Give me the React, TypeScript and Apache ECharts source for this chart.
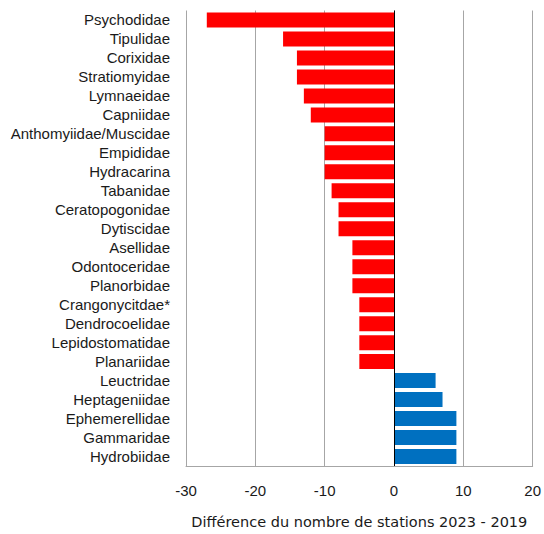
import React, { useEffect, useRef } from "react";
import * as echarts from "echarts";

const categories = [
  "Psychodidae", "Tipulidae", "Corixidae", "Stratiomyidae", "Lymnaeidae", "Capniidae",
  "Anthomyiidae/Muscidae", "Empididae", "Hydracarina", "Tabanidae", "Ceratopogonidae",
  "Dytiscidae", "Asellidae", "Odontoceridae", "Planorbidae", "Crangonycitdae*",
  "Dendrocoelidae", "Lepidostomatidae", "Planariidae", "Leuctridae", "Heptageniidae",
  "Ephemerellidae", "Gammaridae", "Hydrobiidae",
];
const values = [
  -27, -16, -14, -14, -13, -12, -10, -10, -10, -9, -8, -8, -6, -6, -6, -5, -5, -5, -5,
  6, 7, 9, 9, 9,
];
const xTitle = "Différence du nombre de stations 2023 - 2019";

export default function App() {
  const ref = useRef<HTMLDivElement>(null);
  useEffect(() => {
    if (!ref.current) return;
    const chart = echarts.init(ref.current, null, { renderer: "svg" });
    chart.setOption({
      animation: false,
      backgroundColor: "#ffffff",
      grid: { left: 186, right: 11, top: 10.5, bottom: 57.5, containLabel: false },
      xAxis: {
        type: "value",
        min: -30,
        max: 20,
        interval: 10,
        axisLine: { show: true, onZero: false, lineStyle: { color: "#a6a6a6", width: 1 } },
        axisTick: { show: false },
        splitLine: { show: true, lineStyle: { color: "#a6a6a6", width: 1 } },
        axisLabel: { color: "#1a1a1a", fontSize: 15, fontFamily: "Liberation Sans, Arial", margin: 17 },
        name: xTitle,
        nameLocation: "middle",
        nameGap: 48,
        nameTextStyle: { color: "#1a1a1a", fontSize: 14.5, fontFamily: "DejaVu Sans, Verdana" },
      },
      yAxis: {
        type: "category",
        data: categories,
        inverse: true,
        axisLine: { show: false },
        axisTick: { show: false },
        axisLabel: {
          interval: 0,
          color: "#1a1a1a",
          fontSize: 15,
          fontFamily: "Liberation Sans, Arial",
          margin: 16,
        },
      },
      series: [
        {
          type: "bar",
          data: values.map((v) => ({
            value: v,
            itemStyle: { color: v < 0 ? "#ff0000" : "#0070c0" },
          })),
          barWidth: 15,
          markLine: {
            silent: true,
            symbol: "none",
            label: { show: false },
            lineStyle: { color: "#000000", width: 1, type: "solid" },
            data: [{ xAxis: 0 }],
          },
        },
      ],
    });
    return () => chart.dispose();
  }, []);
  return (
    <div
      ref={ref}
      style={{ position: "absolute", left: 0, top: 0, width: 544, height: 534 }}
    />
  );
}
